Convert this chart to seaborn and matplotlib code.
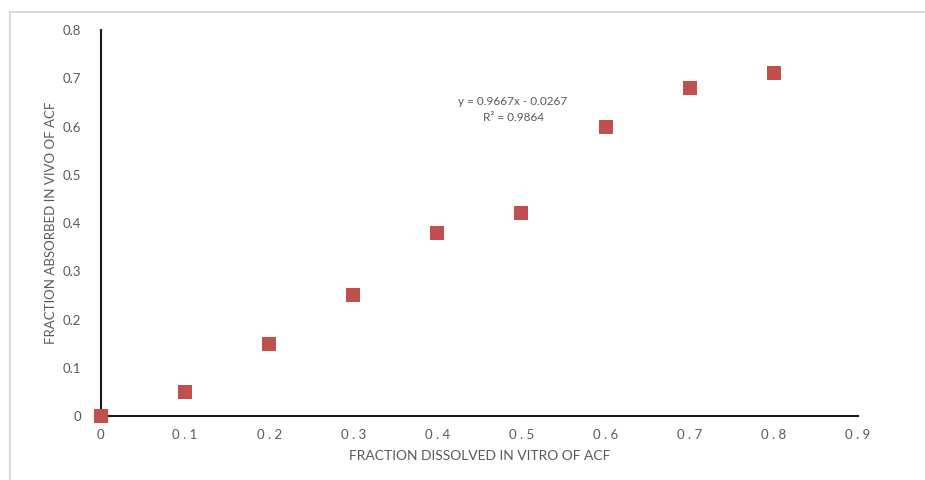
#!/usr/bin/env python3
# In vitro / in vivo correlation scatter for ACF

import pandas as pd
import matplotlib
matplotlib.use('Agg')
import matplotlib.pyplot as plt
from matplotlib.lines import Line2D
import seaborn as sns

# Data
fraction_dissolved = [0.0, 0.1, 0.2, 0.3, 0.4, 0.5, 0.6, 0.7, 0.8]
fraction_absorbed = [0.0, 0.05, 0.15, 0.25, 0.38, 0.42, 0.60, 0.68, 0.71]
x_ticks = [0, 0.1, 0.2, 0.3, 0.4, 0.5, 0.6, 0.7, 0.8, 0.9]
x_tick_labels = ['0', '0 . 1', '0 . 2', '0 . 3', '0 . 4', '0 . 5', '0 . 6', '0 . 7', '0 . 8', '0 . 9']
y_ticks = [0, 0.1, 0.2, 0.3, 0.4, 0.5, 0.6, 0.7, 0.8]
y_tick_labels = ['0', '0.1', '0.2', '0.3', '0.4', '0.5', '0.6', '0.7', '0.8']

df = pd.DataFrame({'dissolved': fraction_dissolved, 'absorbed': fraction_absorbed})

sns.set_style('white')
plt.rcParams['font.family'] = ['Lato', 'DejaVu Sans']

fig = plt.figure(figsize=(9.25, 4.8), dpi=100)
ax = fig.add_axes([0.109, 0.1333, 0.8186, 0.8042])

sns.scatterplot(data=df, x='dissolved', y='absorbed', ax=ax, marker='s',
                s=90, color='#C0504D', edgecolor='#C0504D', linewidth=0,
                clip_on=False, zorder=3)

ax.set_xlim(0, 0.9)
ax.set_ylim(0, 0.8)
ax.set_xticks(x_ticks)
ax.set_xticklabels(x_tick_labels)
ax.set_yticks(y_ticks)
ax.set_yticklabels(y_tick_labels)
ax.tick_params(axis='both', length=0, labelsize=9.5, labelcolor='#595959')
ax.tick_params(axis='x', pad=9)
ax.tick_params(axis='y', pad=14)

for side in ['top', 'right']:
    ax.spines[side].set_visible(False)
for side in ['left', 'bottom']:
    ax.spines[side].set_color('#1a1a1a')
    ax.spines[side].set_linewidth(1.5)

ax.set_xlabel('FRACTION DISSOLVED IN VITRO OF ACF', fontsize=10, color='#595959', labelpad=7)
ax.set_ylabel('FRACTION ABSORBED IN VIVO OF ACF', fontsize=9.5, color='#595959',
              labelpad=4)

# Trendline equation label
ax.text(0.49, 0.651, 'y = 0.9667x - 0.0267', fontsize=8.5, color='#595959',
        ha='center', va='center')
ax.text(0.49, 0.618, 'R² = 0.9864', fontsize=8.5, color='#595959',
        ha='center', va='center')

# Light frame at top and left of the image
fig.add_artist(Line2D([10 / 925, 1], [1 - 12 / 480, 1 - 12 / 480],
                      color='#d9d9d9', linewidth=1.5, transform=fig.transFigure))
fig.add_artist(Line2D([10 / 925, 10 / 925], [0, 1 - 12 / 480],
                      color='#d9d9d9', linewidth=1.5, transform=fig.transFigure))

plt.savefig('out.png', dpi=100)
